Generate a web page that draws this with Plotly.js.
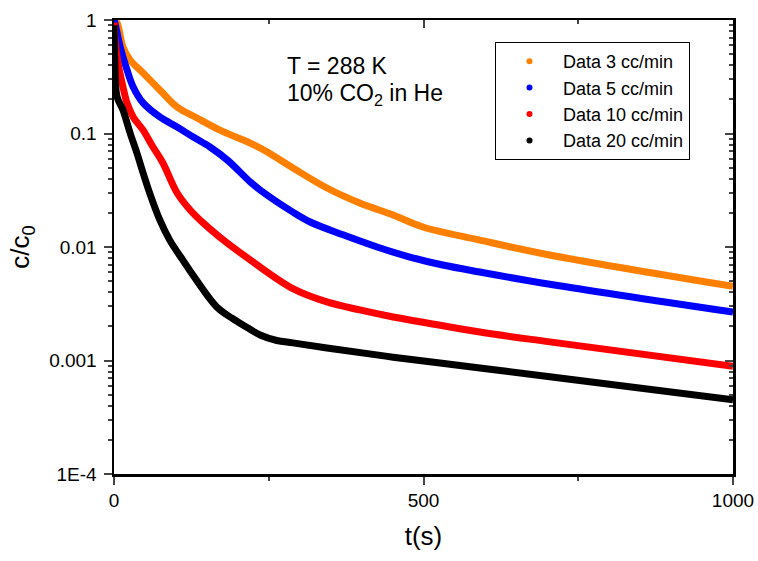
<!DOCTYPE html>
<html>
<head>
<meta charset="utf-8">
<script src="https://cdn.plot.ly/plotly-3.0.1.min.js"></script>
<style>html,body{margin:0;padding:0;background:#fff;}#chart{width:758px;height:561px;}</style>
</head>
<body>
<div id="chart"></div>
<script>
// Series names
const seriesNames = ["Data 3 cc/min", "Data 5 cc/min", "Data 10 cc/min", "Data 20 cc/min"];
const seriesColors = ["#FF8000", "#0000FF", "#FF0000", "#000000"];

// Data 3 cc/min
const t3 = [0, 5, 14.5, 26, 47, 74, 102, 134, 171, 220, 247, 289, 344, 397, 451, 499, 591, 704, 1000];
const c3 = [1.0, 0.94, 0.578, 0.444, 0.341, 0.242, 0.171, 0.137, 0.107, 0.0824, 0.069, 0.0497, 0.0331, 0.0244, 0.0191, 0.0150, 0.0115, 0.0085, 0.0045];

// Data 5 cc/min
const t5 = [0, 1.6, 10, 21, 31, 47, 74, 102, 128, 155, 183, 220, 236, 289, 317, 370, 425, 478, 531, 591, 704, 1000];
const c5 = [1.0, 0.94, 0.578, 0.363, 0.257, 0.186, 0.14, 0.114, 0.093, 0.076, 0.0584, 0.0375, 0.0318, 0.0203, 0.0166, 0.0128, 0.0100, 0.00816, 0.00694, 0.00602, 0.0047, 0.00267];

// Data 10 cc/min
const t10 = [0, 1.6, 6.5, 14.5, 21, 31, 47, 63, 79, 102, 123, 144, 171, 220, 289, 344, 397, 451, 506, 591, 704, 1000];
const c10 = [0.95, 0.667, 0.418, 0.257, 0.186, 0.14, 0.107, 0.076, 0.055, 0.0299, 0.0212, 0.0163, 0.0122, 0.0077, 0.0043, 0.00328, 0.00279, 0.00242, 0.00214, 0.00178, 0.00146, 0.00089];

// Data 20 cc/min
const t20 = [0, 1, 5, 14.5, 26, 37, 47, 58, 74, 90, 111, 128, 166, 190, 215, 236, 263, 289, 344, 451, 591, 704, 1000];
const c20 = [0.9, 0.5, 0.21, 0.161, 0.101, 0.0673, 0.0449, 0.0295, 0.0173, 0.0115, 0.0077, 0.0056, 0.00296, 0.00237, 0.00195, 0.00168, 0.0015, 0.00143, 0.00129, 0.00107, 0.00086, 0.00072, 0.00045];

// Tick labels
const yTickVals = [1e-4, 1e-3, 1e-2, 1e-1, 1];
const yTickText = ["1E-4", "0.001", "0.01", "0.1", "1"];
const xTickVals = [0, 500, 1000];

const xs = [t3, t5, t10, t20];
const ys = [c3, c5, c10, c20];

const font = "Liberation Sans, Arial, sans-serif";
const traces = [];
for (let i = 0; i < 4; i++) {
  traces.push({
    x: xs[i], y: ys[i], type: "scatter", mode: "lines",
    line: {color: seriesColors[i], width: 7, shape: "spline", smoothing: 1.0},
    showlegend: false, hoverinfo: "skip"
  });
}
for (let i = 0; i < 4; i++) {
  traces.push({
    x: [null], y: [null], type: "scatter", mode: "markers",
    xaxis: "x2", yaxis: "y2",
    name: seriesNames[i],
    marker: {color: seriesColors[i], size: 6}
  });
}

const layout = {
  width: 758, height: 561,
  margin: {l: 114, r: 25, t: 20, b: 87},
  paper_bgcolor: "#fff", plot_bgcolor: "#fff",
  font: {family: font, color: "#000"},
  showlegend: true,
  legend: {
    x: 0.6155, y: 0.9515, xanchor: "left", yanchor: "top",
    bordercolor: "#000", borderwidth: 1, bgcolor: "#fff",
    font: {size: 18, family: font},
    traceorder: "normal",
    itemwidth: 57
  },
  xaxis: {
    range: [0, 1000], tickvals: xTickVals, ticks: "outside", ticklen: 8, tickwidth: 2,
    showline: true, linewidth: 2.5, linecolor: "#000", showgrid: false, zeroline: false,
    tickfont: {size: 19, family: font},
    minor: {ticks: "outside", ticklen: 4, tickwidth: 2, dtick: 250, showgrid: false},
    title: {text: "t(s)", font: {size: 26, family: font}, standoff: 17}
  },
  yaxis: {
    type: "log", range: [-4, 0], tickvals: yTickVals, ticktext: yTickText,
    ticks: "outside", ticklen: 8, tickwidth: 2, ticklabelstandoff: 3,
    showline: true, linewidth: 2.5, linecolor: "#000", showgrid: false, zeroline: false,
    tickfont: {size: 19, family: font},
    minor: {ticks: "outside", ticklen: 4, tickwidth: 2, dtick: "D1", showgrid: false},
    title: {text: "c/c<sub>0</sub>", font: {size: 26, family: font}, standoff: 12}
  },
  xaxis2: {
    overlaying: "x", side: "top", anchor: "y", range: [0, 1000], tickvals: xTickVals,
    ticks: "inside", ticklen: 8, tickwidth: 2, showticklabels: false,
    showline: true, linewidth: 2.5, linecolor: "#000", showgrid: false, zeroline: false,
    minor: {ticks: "inside", ticklen: 4, tickwidth: 2, dtick: 250, showgrid: false}
  },
  yaxis2: {
    overlaying: "y", side: "right", anchor: "x", type: "log", range: [-4, 0], tickvals: yTickVals,
    ticks: "inside", ticklen: 8, tickwidth: 2, showticklabels: false,
    showline: true, linewidth: 2.5, linecolor: "#000", showgrid: false, zeroline: false,
    minor: {ticks: "inside", ticklen: 4, tickwidth: 2, dtick: "D1", showgrid: false}
  },
  annotations: [
    {text: "T = 288 K", xref: "paper", yref: "paper", x: 0.277, y: 0.899, xanchor: "left", yanchor: "middle",
     showarrow: false, font: {size: 23, family: font}},
    {text: "10% CO<sub>2</sub> in He", xref: "paper", yref: "paper", x: 0.277, y: 0.835, xanchor: "left", yanchor: "middle",
     showarrow: false, font: {size: 23, family: font}}
  ]
};

Plotly.newPlot("chart", traces, layout, {displayModeBar: false, staticPlot: true});
</script>
</body>
</html>
